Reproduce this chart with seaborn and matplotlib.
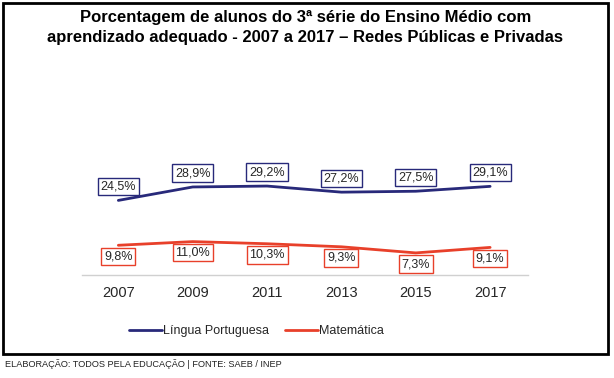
import numpy as np
import pandas as pd
import seaborn as sns
import matplotlib.pyplot as plt
from matplotlib.patches import Rectangle

# Data
anos = [2007, 2009, 2011, 2013, 2015, 2017]
lingua_portuguesa = [24.5, 28.9, 29.2, 27.2, 27.5, 29.1]
matematica = [9.8, 11.0, 10.3, 9.3, 7.3, 9.1]
series_nomes = ["Língua Portuguesa", "Matemática"]

df = pd.DataFrame({
    "ano": anos * 2,
    "valor": lingua_portuguesa + matematica,
    "serie": [series_nomes[0]] * len(anos) + [series_nomes[1]] * len(anos),
})

cores = {"Língua Portuguesa": "#28297a", "Matemática": "#e8402a"}

sns.set_style("white")
plt.rcParams["font.family"] = ["Liberation Sans", "DejaVu Sans"]

fig = plt.figure(figsize=(6.14, 3.78), dpi=100)
ax = fig.add_axes([0.134, 0.272, 0.726, 0.323])

sns.lineplot(data=df, x="ano", y="valor", hue="serie", palette=cores,
             linewidth=2, ax=ax, legend=False)

# Value labels
for serie, valores, dy in [(series_nomes[0], lingua_portuguesa, 10),
                           (series_nomes[1], matematica, -8)]:
    for ano, v in zip(anos, valores):
        ax.annotate(f"{v:.1f}%".replace(".", ","), (ano, v),
                    xytext=(0, dy), textcoords="offset points",
                    ha="center", va="center", fontsize=9,
                    bbox=dict(boxstyle="square,pad=0.22", fc="white",
                              ec=cores[serie], lw=1))

ax.set_xlim(2006.03, 2018.02)
ax.set_ylim(0, 40)
ax.set_xticks(anos)
ax.set_xticklabels([str(a) for a in anos], fontsize=10.5)
ax.set_yticks([])
ax.set_xlabel("")
ax.set_ylabel("")
for s in ["top", "right", "left"]:
    ax.spines[s].set_visible(False)
ax.spines["bottom"].set_color("#d0d0d0")
ax.spines["bottom"].set_linewidth(1)
ax.tick_params(axis="x", length=0, pad=8)

# Title
fig.text(0.497, 0.927,
         "Porcentagem de alunos do 3ª série do Ensino Médio com\n"
         "aprendizado adequado - 2007 a 2017 – Redes Públicas e Privadas",
         ha="center", va="center", fontsize=12, fontweight="bold",
         color="black", linespacing=1.35)

# Legend
handles = [plt.Line2D([], [], color=cores[s], lw=2) for s in series_nomes]
fig.legend(handles, series_nomes, loc="center", bbox_to_anchor=(0.418, 0.124),
           ncol=2, frameon=False, fontsize=9, handlelength=2.6,
           handletextpad=0.1, columnspacing=1.3)

# Frame
fig.patches.append(Rectangle((0.005, 0.0635), 0.985, 0.9285,
                             transform=fig.transFigure, fill=False,
                             ec="black", lw=2, zorder=10))

# Footer
fig.text(0.008, 0.037, "ELABORAÇÃO: TODOS PELA EDUCAÇÃO | FONTE: SAEB / INEP",
         ha="left", va="center", fontsize=6.6, color="#222222")

fig.savefig("out.png", dpi=100)
